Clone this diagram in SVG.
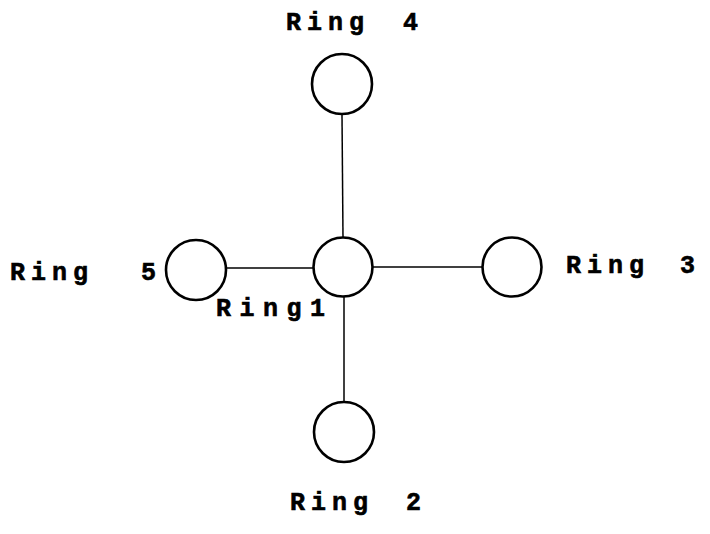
<svg xmlns="http://www.w3.org/2000/svg" width="710" height="534" viewBox="0 0 710 534">
<style>
.ring{fill:none;stroke:#000;stroke-width:2.6}
.edge{stroke:#000;stroke-width:1.5;fill:none}
.lbl{font-family:"Liberation Mono","DejaVu Sans Mono",monospace;font-weight:bold;font-size:25px;letter-spacing:6px;fill:#000;stroke:#000;stroke-width:0.6}
</style>
<rect width="710" height="534" fill="#fff"/>
<g id="connectors">
<line class="edge" x1="342" y1="115" x2="343" y2="238"/>
<line class="edge" x1="372" y1="267" x2="483" y2="267"/>
<line class="edge" x1="226" y1="268" x2="314" y2="268"/>
<line class="edge" x1="344" y1="297" x2="344" y2="402"/>
</g>
<g id="ring1">
<circle class="ring" cx="343" cy="267" r="29.5"/>
<text class="lbl" x="216" y="316" style="letter-spacing:8.5px">Ring1</text>
</g>
<g id="ring4">
<circle class="ring" cx="342" cy="84" r="30"/>
<text class="lbl" x="286" y="30">Ring <tspan x="403">4</tspan></text>
</g>
<g id="ring3">
<circle class="ring" cx="512" cy="267" r="29.5"/>
<text class="lbl" x="566" y="273">Ring <tspan x="680">3</tspan></text>
</g>
<g id="ring5">
<circle class="ring" cx="196" cy="270" r="30"/>
<text class="lbl" x="10" y="280">Ring <tspan x="141">5</tspan></text>
</g>
<g id="ring2">
<circle class="ring" cx="344" cy="432" r="30"/>
<text class="lbl" x="290" y="510">Ring <tspan x="406">2</tspan></text>
</g>
</svg>
